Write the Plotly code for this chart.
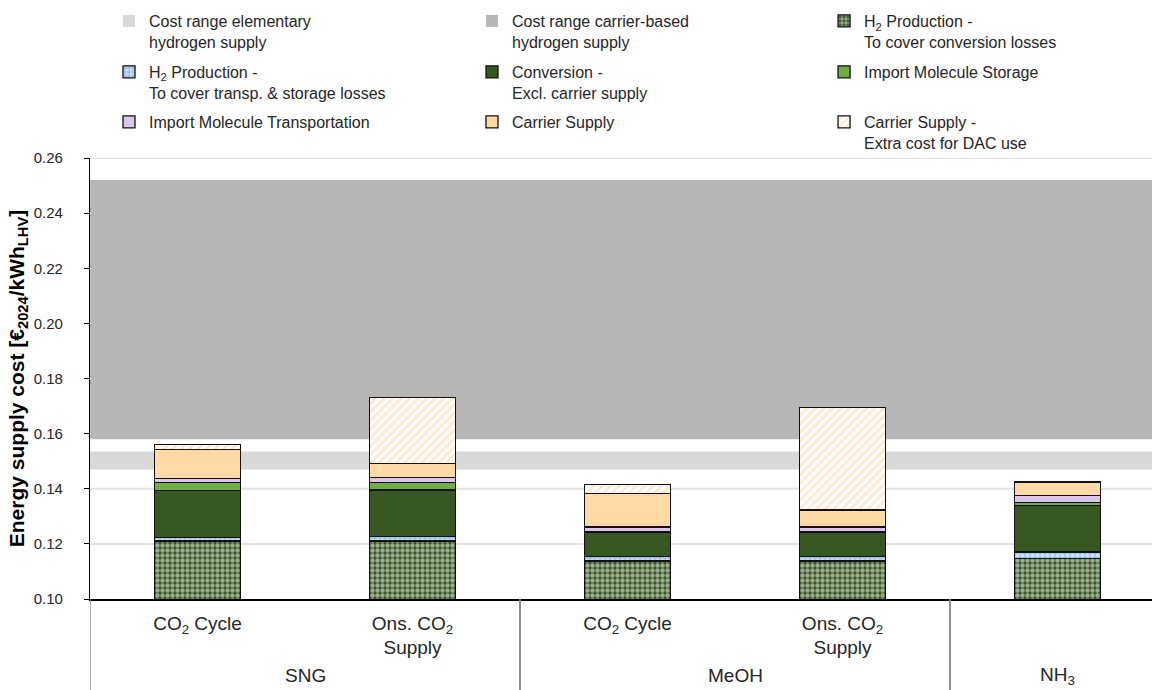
import plotly.graph_objects as go

# Categories: product group and CO2 supply case for each bar
groups = ["SNG", "SNG", "MeOH", "MeOH", "NH<sub>3</sub>"]
cases = ["CO<sub>2</sub> Cycle", "Ons. CO<sub>2</sub><br>Supply",
         "CO<sub>2</sub> Cycle", "Ons. CO<sub>2</sub><br>Supply", ""]

# Cost components in €2024/kWh_LHV (stacked from bottom to top)
h2_conv_losses = [0.1210, 0.1210, 0.1138, 0.1138, 0.1148]
h2_transp_losses = [0.0014, 0.0016, 0.0016, 0.0016, 0.0022]
conversion = [0.0170, 0.0170, 0.0088, 0.0088, 0.0170]
storage = [0.0029, 0.0026, 0.0002, 0.0002, 0.0011]
transport = [0.0015, 0.0018, 0.0017, 0.0017, 0.0025]
carrier = [0.0105, 0.0051, 0.0122, 0.0062, 0.0048]
carrier_dac = [0.0017, 0.0241, 0.0033, 0.0373, 0.0]

# Reference cost ranges (low, high)
elementary_range = [0.147, 0.1535]
carrier_based_range = [0.158, 0.252]

# Value-axis ticks
y_ticks = [0.10, 0.12, 0.14, 0.16, 0.18, 0.20, 0.22, 0.24, 0.26]

FONT = "Liberation Sans, Arial, sans-serif"
TXT = "#262626"
OUTLINE = dict(color="#111111", width=1.3)

xpos = list(range(len(cases)))

series = [
    ("H<sub>2</sub> Production -<br>To cover conversion losses", h2_conv_losses,
     dict(color="#375623", pattern=dict(shape=".", fgcolor="white", bgcolor="#375623",
                                        size=5, solidity=0.6))),
    ("H<sub>2</sub> Production -<br>To cover transp. & storage losses", h2_transp_losses,
     dict(color="#9dc3e6", pattern=dict(shape=".", fgcolor="white", bgcolor="#9dc3e6",
                                        size=5, solidity=0.5))),
    ("Conversion -<br>Excl. carrier supply", conversion, dict(color="#385723")),
    ("Import Molecule Storage", storage, dict(color="#70ad47")),
    ("Import Molecule Transportation", transport, dict(color="#d9c6ea")),
    ("Carrier Supply", carrier, dict(color="#ffd9a8")),
    ("Carrier Supply -<br>Extra cost for DAC use", carrier_dac,
     dict(color="white", pattern=dict(shape="/", fgcolor="#ffd29c", bgcolor="white",
                                      size=6, solidity=0.45))),
]

# Legend grid: 3 columns x 3 rows, one legend box per entry
legend_cols = [0.0179, 0.3597, 0.6912]
legend_rows = [1.3492, 1.2336, 1.1202]
legend_ids = ["legend"] + ["legend%d" % i for i in range(2, 10)]

fig = go.Figure()

# Legend entries for the shaded cost ranges (the ranges are drawn as shapes)
fig.add_trace(go.Bar(x=[xpos[0]], y=[None], name="Cost range elementary<br>hydrogen supply",
                     marker=dict(color="#d9d9d9", line=dict(width=0)), legend=legend_ids[0]))
fig.add_trace(go.Bar(x=[xpos[0]], y=[None], name="Cost range carrier-based<br>hydrogen supply",
                     marker=dict(color="#b7b7b7", line=dict(width=0)), legend=legend_ids[1]))

for i, (name, vals, marker) in enumerate(series):
    fig.add_trace(go.Bar(x=xpos, y=vals, name=name, marker=dict(marker, line=OUTLINE),
                         width=0.4, legend=legend_ids[i + 2], hoverinfo="y+name"))

# Horizontal gridlines first, then the shaded ranges on top of them
shapes = []
for t in y_ticks[1:]:
    shapes.append(dict(type="line", xref="paper", yref="y", x0=0, x1=1, y0=t, y1=t,
                       line=dict(color="#e2e2e2", width=2), layer="below"))
for rng, col in ((elementary_range, "#d9d9d9"), (carrier_based_range, "#b7b7b7")):
    shapes.append(dict(type="rect", xref="paper", yref="y", x0=0, x1=1,
                       y0=rng[0], y1=rng[1], fillcolor=col, line=dict(width=0),
                       layer="below"))

# Group labels under the case labels, with dividers between the groups
annotations = []
spans = []
for i, g in enumerate(groups):
    if spans and spans[-1][0] == g:
        spans[-1][2] = i
    else:
        spans.append([g, i, i])
for g, i0, i1 in spans:
    annotations.append(dict(text=g, x=(xpos[i0] + xpos[i1]) / 2, xref="x", y=-0.1746,
                            yref="paper", yanchor="middle", showarrow=False,
                            font=dict(family=FONT, size=19, color=TXT)))
    for edge in (xpos[i0] - 0.5, xpos[i1] + 0.5):
        shapes.append(dict(type="line", xref="x", yref="paper", x0=edge, x1=edge,
                           y0=0, y1=-0.22, line=dict(color="#808080", width=1.3)))

legends = {}
for k, lid in enumerate(legend_ids):
    legends[lid] = dict(orientation="h", x=legend_cols[k % 3], xanchor="left",
                        y=legend_rows[k // 3], yanchor="top", valign="top",
                        bgcolor="rgba(0,0,0,0)",
                        font=dict(family=FONT, size=16, color=TXT))

fig.update_layout(
    width=1152, height=690,
    margin=dict(l=90, r=0, t=158, b=91),
    paper_bgcolor="white", plot_bgcolor="white",
    barmode="stack",
    showlegend=True,
    font=dict(family=FONT, color=TXT),
    shapes=shapes,
    annotations=annotations,
    xaxis=dict(range=[-0.5, 4.4395], tickvals=xpos, ticktext=cases, showline=True,
               linecolor="black", linewidth=1.5, ticks="", showgrid=False,
               zeroline=False, ticklabelstandoff=6,
               tickfont=dict(family=FONT, size=19, color=TXT)),
    yaxis=dict(range=[0.10, 0.26], tickvals=y_ticks, tickformat=".2f", showline=True,
               linecolor="black", linewidth=1.3, ticks="outside", ticklen=5,
               tickcolor="black", ticklabelstandoff=18, showgrid=False,
               zeroline=False,
               tickfont=dict(family=FONT, size=15, color=TXT),
               title=dict(text="<b>Energy supply cost [€<sub>2024</sub>/kWh<sub>LHV</sub>]</b>",
                          font=dict(family=FONT, size=21, color="black"), standoff=3)),
    **legends,
)

fig.write_html("out.html")
